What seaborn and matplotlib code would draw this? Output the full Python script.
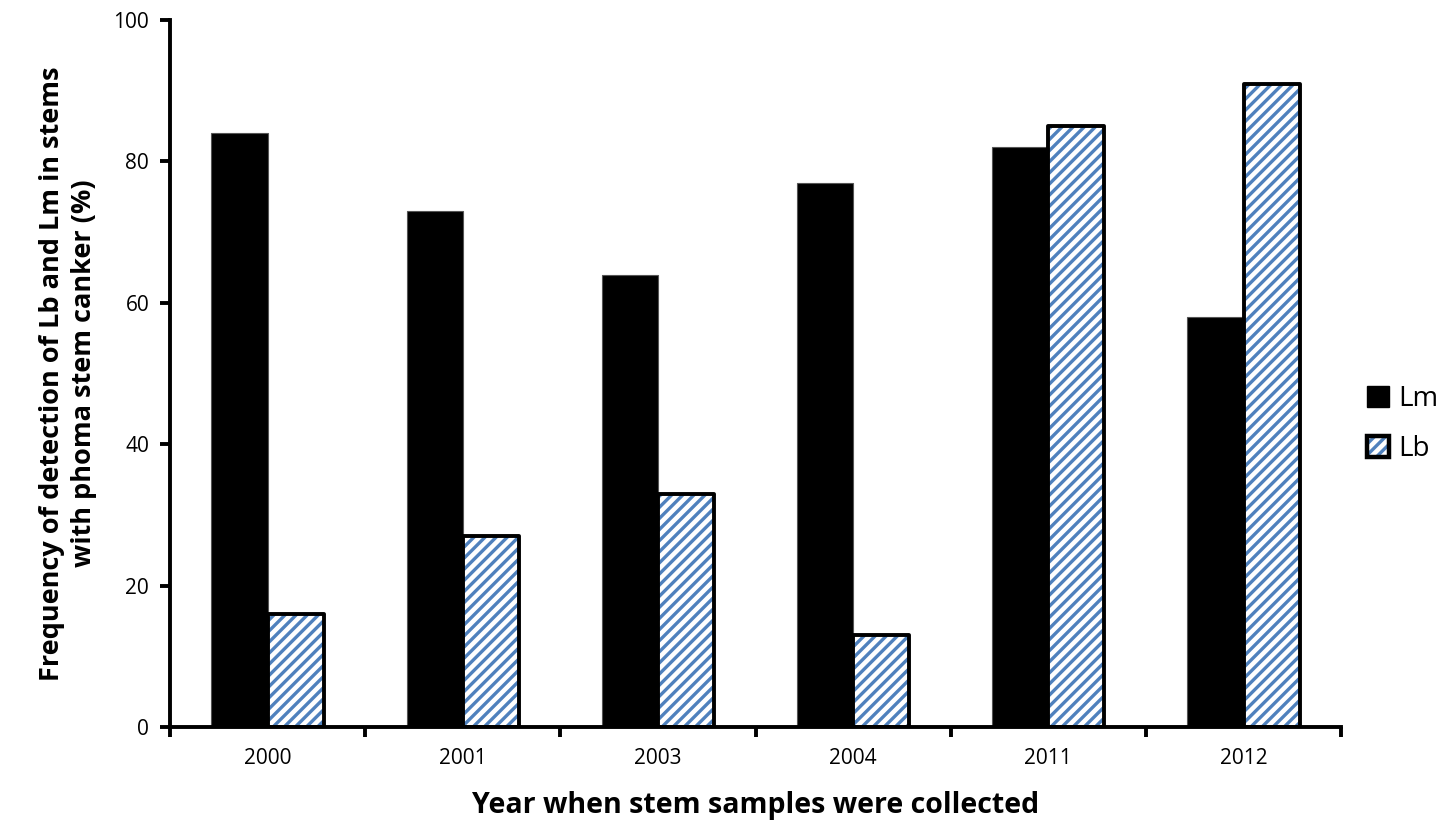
import matplotlib
matplotlib.use("Agg")
import matplotlib.pyplot as plt
import seaborn as sns
import pandas as pd
from matplotlib.patches import Rectangle, Patch

years = ["2000", "2001", "2003", "2004", "2011", "2012"]
lm_values = [84, 73, 64, 77, 82, 58]
lb_values = [16, 27, 33, 13, 85, 91]
series = ["Lm", "Lb"]
y_ticks = [0, 20, 40, 60, 80, 100]

df = pd.DataFrame({
    "year": years * 2,
    "value": lm_values + lb_values,
    "series": ["Lm"] * len(years) + ["Lb"] * len(years),
})

sns.set_theme(style="white")
plt.rcParams["font.family"] = ["Open Sans", "DejaVu Sans"]
plt.rcParams["hatch.linewidth"] = 2.4
for key in ["text.color", "axes.labelcolor", "xtick.color", "ytick.color"]:
    plt.rcParams[key] = "black"

BLUE = "#4F81BD"
fig = plt.figure(figsize=(14.53, 8.22), dpi=100)
ax = fig.add_axes([0.117, 0.1156, 0.806, 0.860])

sns.barplot(data=df, x="year", y="value", hue="series", hue_order=series,
            palette={"Lm": "black", "Lb": "white"}, width=0.575, ax=ax,
            legend=False, saturation=1, errorbar=None, order=years)

n = len(years)
patches = [p for p in ax.patches]
lm_patches = patches[:n]
lb_patches = patches[n:2 * n]
for p in lm_patches:
    p.set_facecolor("black")
    p.set_edgecolor("#555555")
    p.set_linewidth(0.8)
for p in lb_patches:
    p.set_facecolor("white")
    p.set_edgecolor(BLUE)
    p.set_hatch("///")
    p.set_linewidth(0)
    ax.add_patch(Rectangle((p.get_x(), p.get_y()), p.get_width(), p.get_height(),
                           fill=False, edgecolor="black", linewidth=2.8,
                           joinstyle="round", zorder=p.get_zorder() + 0.1))

ax.set_ylim(0, 100)
ax.set_xlim(-0.5, n - 0.5)
ax.set_yticks(y_ticks)
ax.set_yticklabels([str(t) for t in y_ticks], fontsize=15)
ax.set_xticks([i - 0.5 for i in range(n + 1)], minor=False)
ax.set_xticklabels([])
ax.set_xticks(range(n), minor=True)
ax.set_xticklabels(years, minor=True, fontsize=15)
ax.tick_params(axis="x", which="minor", length=0, pad=15, labelcolor="black")
ax.tick_params(axis="x", which="major", direction="out", length=7, width=2.8, color="black", bottom=True)
ax.tick_params(axis="y", direction="out", length=7, width=2.8, color="black", left=True, pad=8, labelcolor="black")

for s in ["top", "right"]:
    ax.spines[s].set_visible(False)
for s in ["left", "bottom"]:
    ax.spines[s].set_linewidth(2.8)
    ax.spines[s].set_color("black")

ax.set_xlabel("Year when stem samples were collected", fontsize=20.5, fontweight="bold",
              labelpad=16, color="black")
ax.set_ylabel("Frequency of detection of Lb and Lm in stems\nwith phoma stem canker (%)",
              fontsize=19.5, fontweight="bold", labelpad=12, linespacing=1.3, color="black")

lm_handle = Patch(facecolor="black", edgecolor="black", linewidth=1)
lb_handle = (Patch(facecolor="white", edgecolor=BLUE, hatch="///", linewidth=0),
             Patch(fill=False, edgecolor="black", linewidth=3.2, joinstyle="round"))
leg = fig.legend(handles=[lm_handle, lb_handle], labels=series,
                 loc="center left", bbox_to_anchor=(0.941, 0.484),
                 frameon=False, fontsize=20, handlelength=0.8, handleheight=0.8,
                 handletextpad=0.3, labelspacing=0.8, borderpad=0, borderaxespad=0,
                 labelcolor="black")

fig.savefig("out.png", dpi=100)
